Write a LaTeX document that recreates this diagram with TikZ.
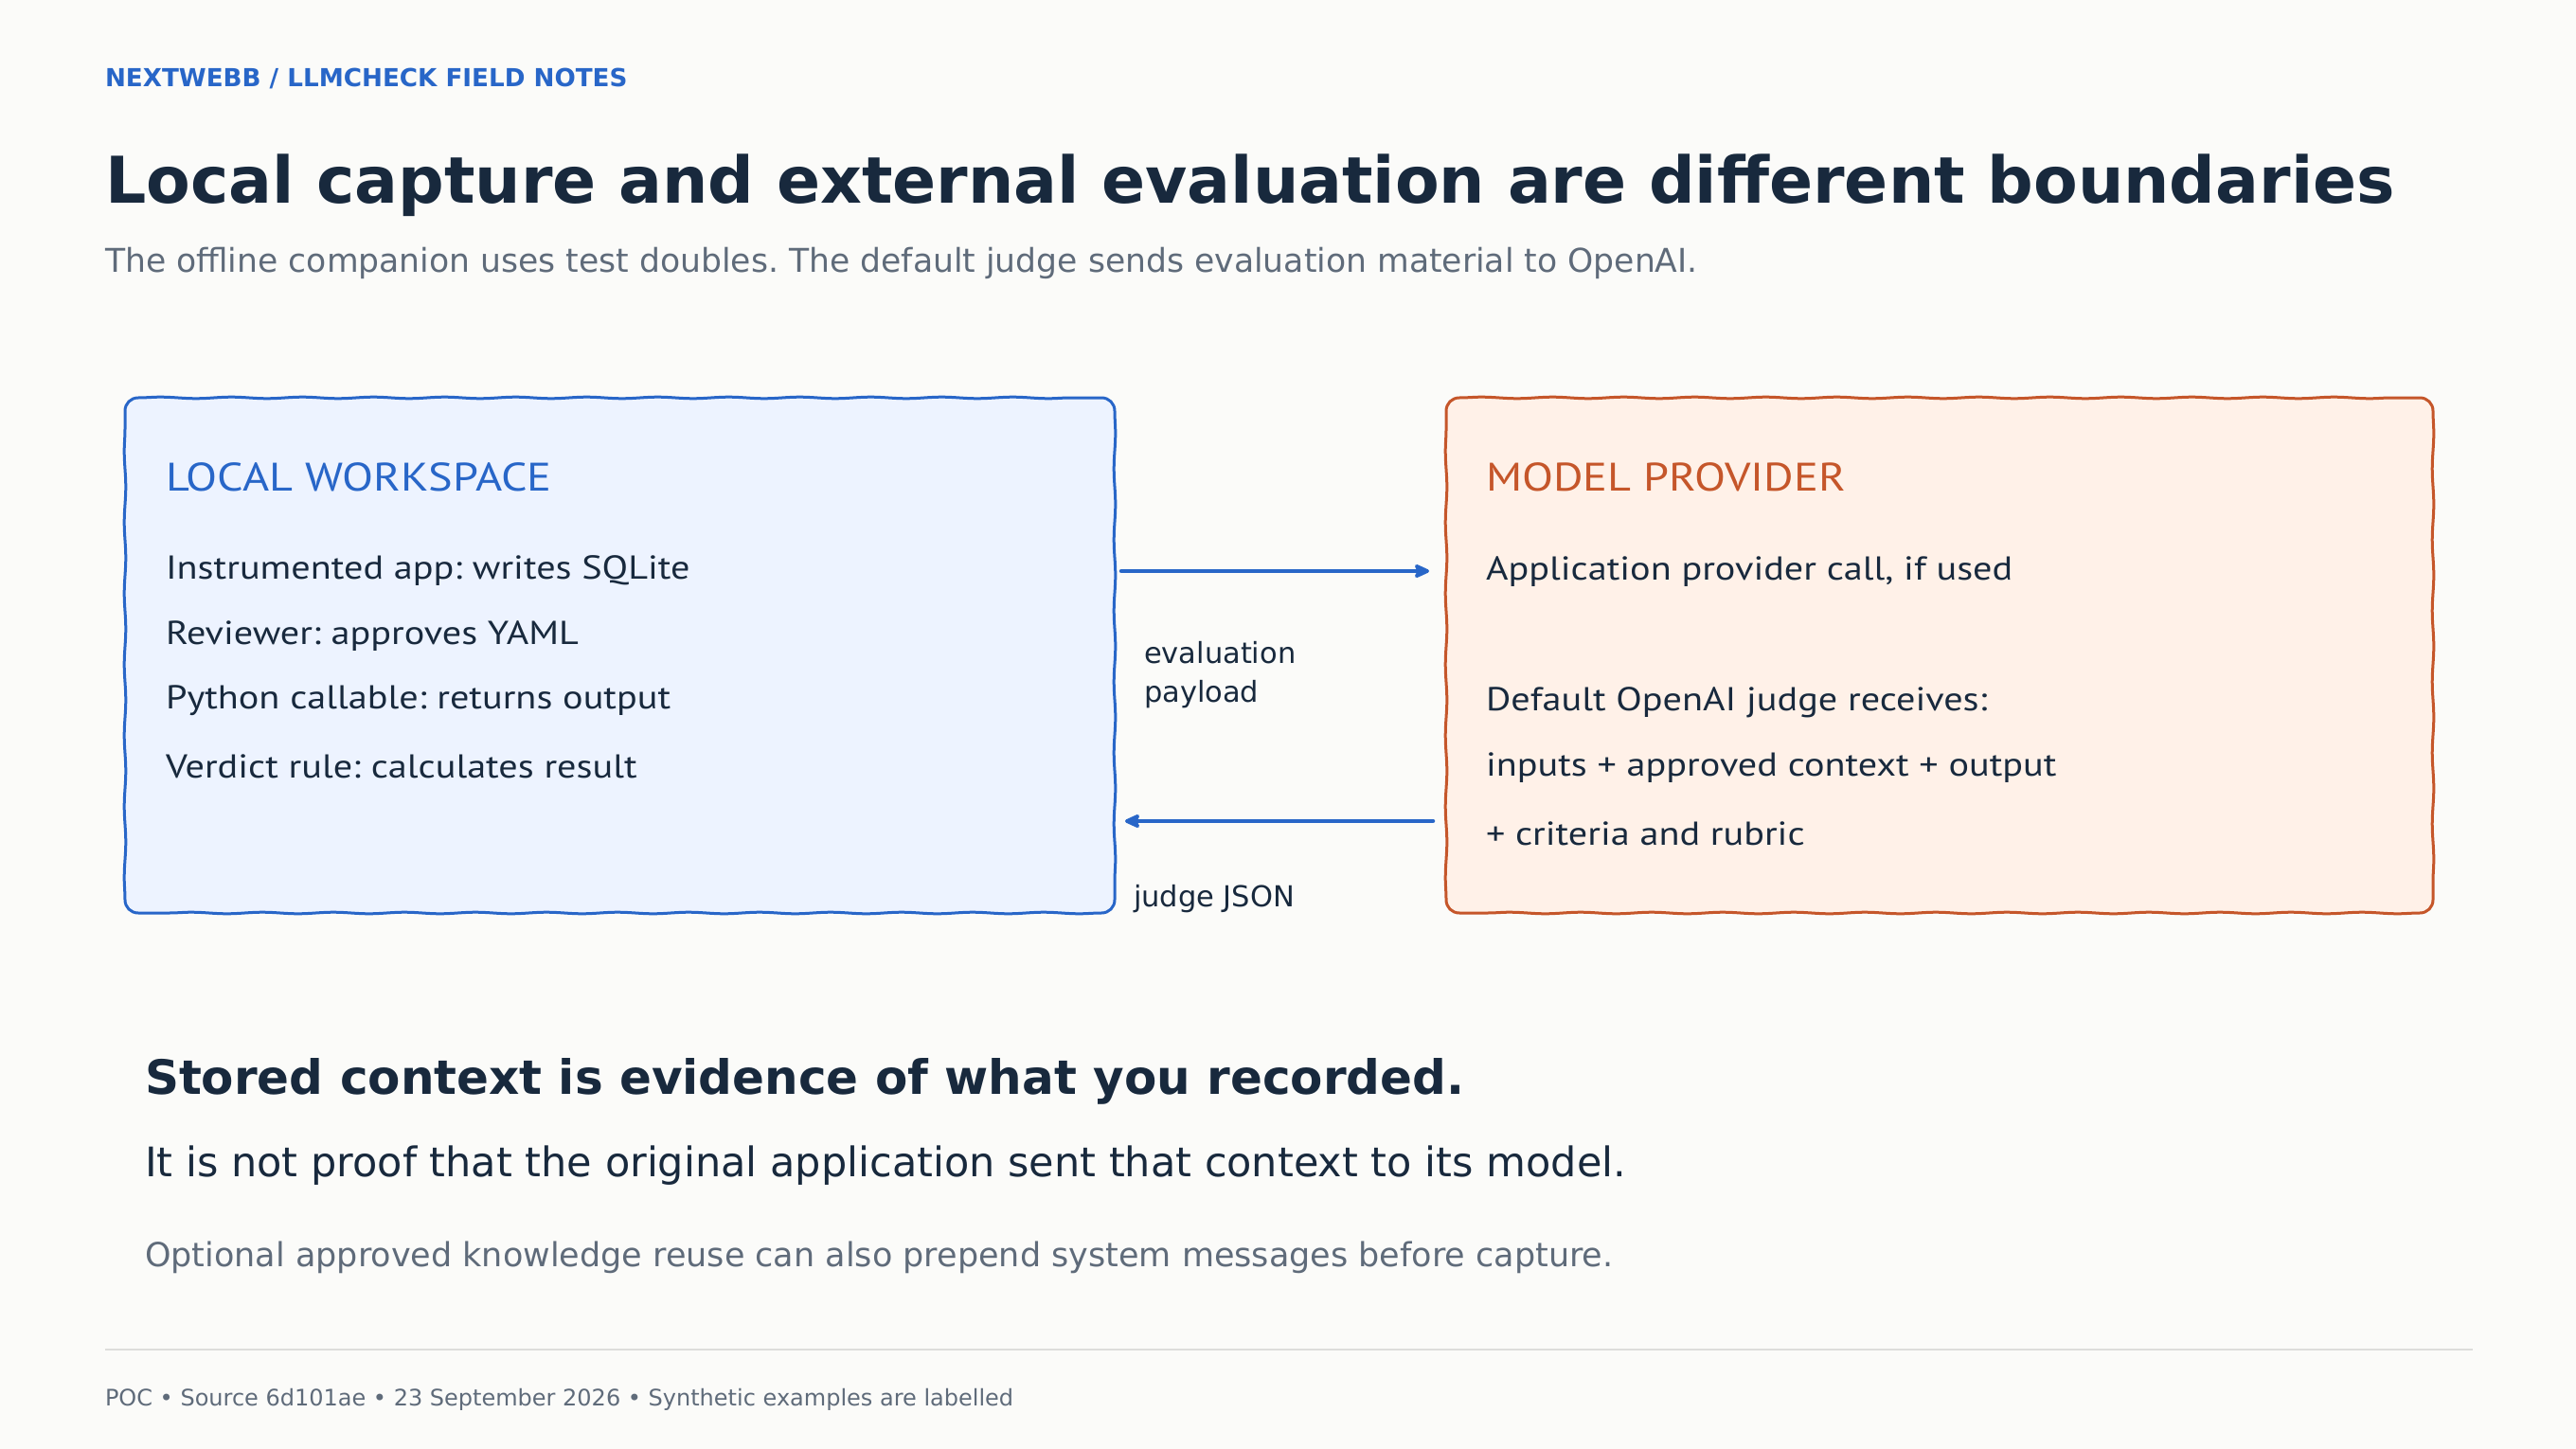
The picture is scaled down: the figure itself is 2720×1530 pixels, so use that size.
\documentclass[tikz,border=0pt]{standalone}
\usepackage{fontspec}
\setmainfont{DejaVu Sans}
\newfontfamily\hand[FakeStretch=1.15]{PT Sans}
\usetikzlibrary{arrows.meta,decorations.pathmorphing,calc}
\frenchspacing
\definecolor{bg}{HTML}{FBFBF9}
\definecolor{ink}{HTML}{18293D}
\definecolor{accblue}{HTML}{2866C8}
\definecolor{accorange}{HTML}{C5562A}
\definecolor{muted}{HTML}{5F6B7A}
\definecolor{bluefill}{HTML}{EDF3FF}
\definecolor{orangefill}{HTML}{FFF1E8}
\definecolor{rule}{HTML}{DDDDDB}
\newcommand{\fs}[1]{\fontsize{#1}{#1}\selectfont}
\newcommand{\sketchbox}[2]{%
  \draw[draw=#2, line width=3pt, line join=round, line cap=round,
        decoration={snake, amplitude=0.8pt, segment length=75pt}]
  ($(#1.north west)+(14,0)$) decorate{-- ($(#1.north east)+(-14,0)$)}
  .. controls ($(#1.north east)+(-6,0)$) and ($(#1.north east)+(0,6)$) .. ($(#1.north east)+(0,14)$)
  decorate{-- ($(#1.south east)+(0,-14)$)}
  .. controls ($(#1.south east)+(0,-6)$) and ($(#1.south east)+(-6,0)$) .. ($(#1.south east)+(-14,0)$)
  decorate{-- ($(#1.south west)+(14,0)$)}
  .. controls ($(#1.south west)+(6,0)$) and ($(#1.south west)+(0,-6)$) .. ($(#1.south west)+(0,-14)$)
  decorate{-- ($(#1.north west)+(0,14)$)}
  .. controls ($(#1.north west)+(0,6)$) and ($(#1.north west)+(6,0)$) .. ($(#1.north west)+(14,0)$);}
\tikzset{
  txt/.style={anchor=base west, inner sep=0pt, outer sep=0pt},
  panel/.style={rounded corners=14pt, inner sep=0pt, outer sep=0pt, draw=none},
  boxhead/.style={txt, font=\hand\fs{42}},
  boxitem/.style={txt, font=\hand\fs{35}, text=ink},
  flow/.style={draw=accblue, line width=4.5pt, line cap=round,
    -{Stealth[length=20pt, width=18pt, inset=5pt, round]}},
  flowlabel/.style={txt, font=\fs{30.5}, text=ink}
}
\begin{document}
\begin{tikzpicture}[x=1pt, y=-1pt]
\fill[bg] (0,0) rectangle (2720,1530);
\useasboundingbox (0,0) rectangle (2720,1530);

% header
\node[txt, font=\bfseries\fs{26.2}, text=accblue] (kicker) at (111,92) {NEXTWEBB / LLMCHECK FIELD NOTES};
\node[txt, font=\bfseries\fs{68}, text=ink] (title) at (111,215) {Local capture and external evaluation are different boundaries};
\node[txt, font=\fs{34.6}, text=muted] (subtitle) at (111,288) {The offline companion uses test doubles. The default judge sends evaluation material to OpenAI.};

% panels
\node[panel, fill=bluefill, minimum width=1045pt, minimum height=544pt] (lw) at (654.5,692) {};
\node[panel, fill=orangefill, minimum width=1042pt, minimum height=544pt] (mp) at (2048,692) {};
\sketchbox{lw}{accblue}
\sketchbox{mp}{accorange}

\node[boxhead, text=accblue] (lwhead) at (175,518) {LOCAL WORKSPACE};
\node[boxitem] (l1) at (175,611) {Instrumented app: writes SQLite};
\node[boxitem] (l2) at (175,680) {Reviewer: approves YAML};
\node[boxitem] (l3) at (175,748) {Python callable: returns output};
\node[boxitem] (l4) at (175,821) {Verdict rule: calculates result};

\node[boxhead, text=accorange] (mphead) at (1569,518) {MODEL PROVIDER};
\node[boxitem] (r1) at (1569,612) {Application provider call, if used};
\node[boxitem] (r2) at (1569,750) {Default OpenAI judge receives:};
\node[boxitem] (r3) at (1569,819) {inputs + approved context + output};
\node[boxitem] (r4) at (1569,892) {+ criteria and rubric};

% connectors
\coordinate (ytop) at (0,603);
\coordinate (ybot) at (0,867);
\draw[flow, shorten <=7pt, shorten >=18pt] (lw.east |- ytop) -- (mp.west |- ytop);
\draw[flow, shorten <=14pt, shorten >=11pt] (mp.west |- ybot) -- (lw.east |- ybot);
\node[flowlabel] (evl1) at (1208,700) {evaluation};
\node[flowlabel] (evl2) at (1208,741) {payload};
\node[flowlabel] (jj) at (1197,957) {judge JSON};

% takeaway
\node[txt, font=\bfseries\fs{50}, text=ink] (take1) at (153,1155) {Stored context is evidence of what you recorded.};
\node[txt, font=\fs{43}, text=ink] (take2) at (153,1242) {It is not proof that the original application sent that context to its model.};
\node[txt, font=\fs{35}, text=muted] (take3) at (153,1337) {Optional approved knowledge reuse can also prepend system messages before capture.};

% footer
\coordinate (rl) at (111,1425);
\coordinate (rr) at (2611,1425);
\draw[rule, line width=2.5pt] (rl) -- (rr);
\node[txt, font=\fs{24}, text=muted] (foot) at (111,1484) {POC • Source 6d101ae • 23 September 2026 • Synthetic examples are labelled};
\end{tikzpicture}
\end{document}
